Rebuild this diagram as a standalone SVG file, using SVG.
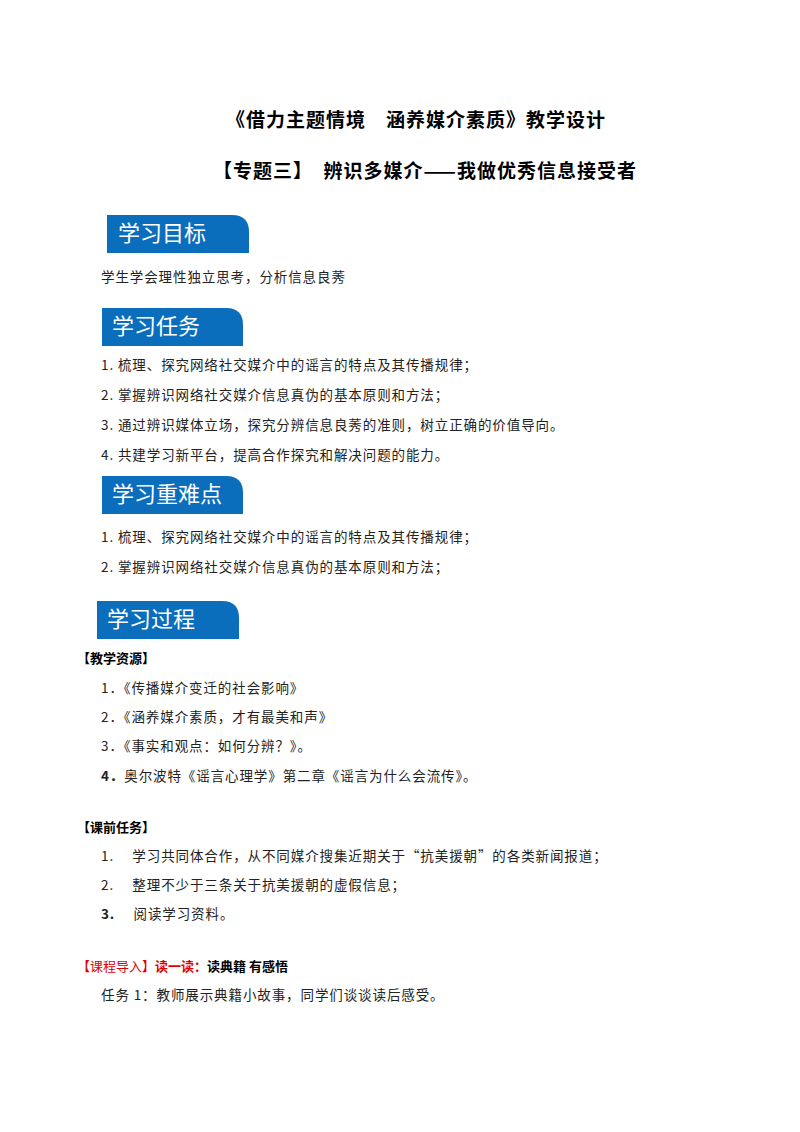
<svg xmlns="http://www.w3.org/2000/svg" width="800" height="1132" viewBox="0 0 800 1132">
<style>
text{font-family:"Noto Sans CJK SC","Noto Sans",sans-serif;fill:#222}
.t{font-size:19px;font-weight:bold;fill:#000;letter-spacing:1px}
.b{fill:#0a6ebd}
.bt{font-size:22px;fill:#fff}
.p{font-size:13.5px;letter-spacing:0.9px}
.h{font-size:13px;font-weight:bold;fill:#000}
</style>
<rect width="800" height="1132" fill="#fff"/>
<text class="t" x="416" y="127" text-anchor="middle">《借力主题情境　涵养媒介素质》教学设计</text>
<text class="t" x="425" y="178" text-anchor="middle">【专题三】　辨识多媒介——我做优秀信息接受者</text>
<g id="b1"><path class="b" d="M107 215H232Q249 215 249 232V253H107Z"/><text class="bt" x="118" y="241">学习目标</text></g>
<text class="p" x="101" y="282">学生学会理性独立思考，分析信息良莠</text>
<g id="b2"><path class="b" d="M102 308H226Q243 308 243 325V346H102Z"/><text class="bt" x="112" y="334">学习任务</text></g>
<text class="p" x="101" y="370">1.  梳理、探究网络社交媒介中的谣言的特点及其传播规律；</text>
<text class="p" x="101" y="400">2.  掌握辨识网络社交媒介信息真伪的基本原则和方法；</text>
<text class="p" x="101" y="430">3.  通过辨识媒体立场，探究分辨信息良莠的准则，树立正确的价值导向。</text>
<text class="p" x="101" y="460">4.  共建学习新平台，提高合作探究和解决问题的能力。</text>
<g id="b3"><path class="b" d="M102 476H226Q243 476 243 493V514H102Z"/><text class="bt" x="112" y="502">学习重难点</text></g>
<text class="p" x="101" y="542">1.  梳理、探究网络社交媒介中的谣言的特点及其传播规律；</text>
<text class="p" x="101" y="572">2.  掌握辨识网络社交媒介信息真伪的基本原则和方法；</text>
<g id="b4"><path class="b" d="M97 601H222Q239 601 239 618V639H97Z"/><text class="bt" x="107" y="627">学习过程</text></g>
<text class="h" x="77" y="663">【教学资源】</text>
<text class="p" x="101" y="693">1．《传播媒介变迁的社会影响》</text>
<text class="p" x="101" y="722">2．《涵养媒介素质，才有最美和声》</text>
<text class="p" x="101" y="751">3．《事实和观点：如何分辨？》。</text>
<text class="p" x="101" y="781"><tspan font-weight="bold">4．</tspan>奥尔波特《谣言心理学》第二章《谣言为什么会流传》。</text>
<text class="h" x="77" y="832">【课前任务】</text>
<text class="p" x="101" y="861">1.　 学习共同体合作，从不同媒介搜集近期关于“抗美援朝”的各类新闻报道；</text>
<text class="p" x="101" y="890">2.　 整理不少于三条关于抗美援朝的虚假信息；</text>
<text class="p" x="101" y="919"><tspan font-weight="bold">3.</tspan>　 阅读学习资料。</text>
<text x="77" y="971" font-size="13px"><tspan fill="#e00000">【课程导入】</tspan><tspan fill="#e00000" font-weight="bold">读一读：</tspan><tspan fill="#000" font-weight="bold">读典籍 有感悟</tspan></text>
<text class="p" x="101" y="1000">任务 1：教师展示典籍小故事，同学们谈谈读后感受。</text>
</svg>
